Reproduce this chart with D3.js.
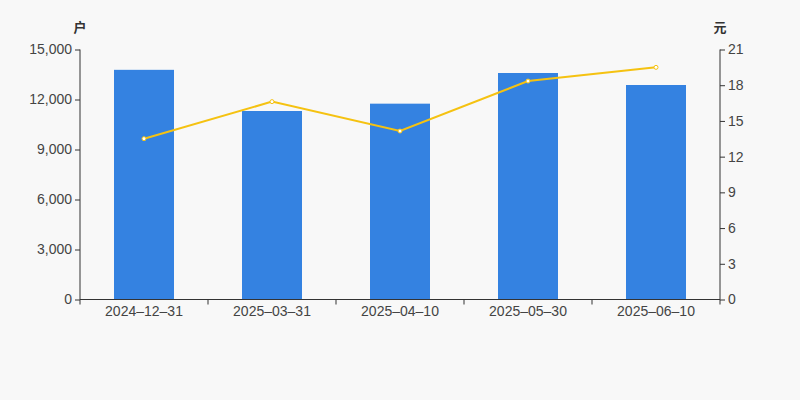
<!DOCTYPE html>
<html><head><meta charset="utf-8">
<script src="https://cdn.jsdelivr.net/npm/d3@7/dist/d3.min.js"></script>
<style>body{margin:0;background:#f8f8f8;}svg{display:block;font-family:Arial,"Liberation Sans","Noto Sans CJK SC",sans-serif;}</style>
</head><body><svg id="c" width="800" height="400"></svg>
<script>
const categories = ["2024-12-31","2025-03-31","2025-04-10","2025-05-30","2025-06-10"];
const households = [13780, 11310, 11750, 13590, 12870];
const prices = [13.51, 16.62, 14.15, 18.35, 19.50];
const leftTicks = [0, 3000, 6000, 9000, 12000, 15000];
const rightTicks = [0, 3, 6, 9, 12, 15, 18, 21];

const svg = d3.select("#c");
svg.append("rect").attr("width",800).attr("height",400).attr("fill","#f8f8f8");
const L=80, R=720, T=49.5, B=299.5;
const xb = d3.scaleBand().domain(categories).range([L,R]);
const yL = d3.scaleLinear().domain([0,15000]).range([B,T]);
const yR = d3.scaleLinear().domain([0,21]).range([B,T]);

svg.append("g").selectAll("rect").data(categories).join("rect")
  .attr("x", d=>xb(d)+xb.bandwidth()/2-30).attr("width",60)
  .attr("y", (d,i)=>yL(households[i])).attr("height",(d,i)=>B-yL(households[i]))
  .attr("fill","#3482e1");

const line = d3.line().x((d,i)=>xb(categories[i])+xb.bandwidth()/2).y(d=>yR(d));
svg.append("path").datum(prices).attr("d",line).attr("fill","none").attr("stroke","#f5c211").attr("stroke-width",2);
svg.append("g").selectAll("circle").data(prices).join("circle")
  .attr("cx",(d,i)=>xb(categories[i])+xb.bandwidth()/2).attr("cy",d=>yR(d)).attr("r",2)
  .attr("fill","#fff").attr("stroke","#f5c211").attr("stroke-width",1);

const fmt = d3.format(",");
const gl = svg.append("g").attr("transform",`translate(${L},0)`)
  .call(d3.axisLeft(yL).tickValues(leftTicks).tickFormat(fmt).tickSize(5).tickPadding(3));
const gr = svg.append("g").attr("transform",`translate(${R},0)`)
  .call(d3.axisRight(yR).tickValues(rightTicks).tickSize(5).tickPadding(3));
const gx = svg.append("g").attr("transform",`translate(0,${B})`)
  .call(d3.axisBottom(xb).tickSize(0).tickPadding(7));
gx.append("g").selectAll("line").data(d3.range(categories.length+1)).join("line")
  .attr("x1",i=>L+i*xb.step()).attr("x2",i=>L+i*xb.step()).attr("y1",0).attr("y2",5).attr("stroke","#333");
[gl,gr,gx].forEach(g=>{
  g.selectAll(".domain").attr("stroke","#333");
  g.selectAll(".tick line").attr("stroke","#333");
  g.selectAll("text").attr("fill","#444").style("font-size","14px");
});
gx.selectAll(".tick text").text(d=>d.replace(/-/g,"\u2013"));
gl.select(".domain").attr("d",`M0,${T}V${B}`);
gr.select(".domain").attr("d",`M0,${T}V${B}`);
gx.select(".domain").attr("d",`M${L},0H${R}`);
svg.append("text").attr("x",80).attr("y",32).attr("text-anchor","middle").attr("fill","#333")
  .style("font-size","13px").style("font-weight","bold").text("户");
svg.append("text").attr("x",720).attr("y",32).attr("text-anchor","middle").attr("fill","#333")
  .style("font-size","13px").style("font-weight","bold").text("元");
</script></body></html>
